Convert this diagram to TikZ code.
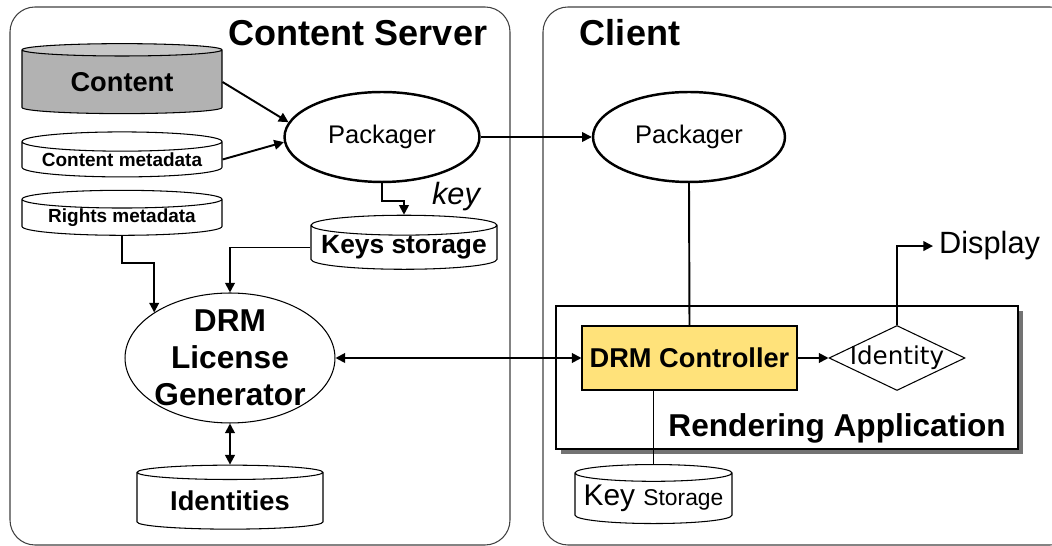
\documentclass[tikz,border=0pt]{standalone}
\usepackage{fontspec}
\setmainfont{Liberation Sans}
\newfontfamily\identfont{DejaVu Sans}
\usetikzlibrary{positioning,shapes.geometric,arrows.meta,shadows}
\definecolor{ctrlyellow}{HTML}{FFE27A}

\begin{document}
\begin{tikzpicture}[x=0.02cm,y=-0.02cm,>={Triangle[length=5.5pt,width=5.5pt]},
	panel/.style={draw=black!75,line width=0.6pt,rounded corners=0.5cm},
	db/.style={cylinder,shape border rotate=90,aspect=0.12,draw,line width=0.6pt,
		inner sep=0pt,font=\bfseries},
	pack/.style={ellipse,draw,line width=1.4pt,inner sep=0pt,minimum height=1.8cm,
		font=\fontsize{14.5}{17}\selectfont},
	conn/.style={line width=1.1pt}]
	\useasboundingbox (0,0) rectangle (1052,546);
	% the two sides
	\draw[panel] (10,7) rectangle (510,545);
	\draw[panel] (543,7) rectangle (1075,545);
	\node (srvtitle) at (358,33) {\fontsize{20.5}{24}\selectfont\bfseries Content Server};
	\node (clititle) at (630,33) {\fontsize{20.5}{24}\selectfont\bfseries Client};
	% create the nodes
	\node (content) [db,minimum width=4cm,minimum height=1.4cm,
		cylinder uses custom fill,cylinder end fill=black!22,cylinder body fill=black!30]
		at (122,82) {\fontsize{15.5}{18}\selectfont Content};
	\node (cmeta) [db,minimum width=4cm,minimum height=0.9cm] at (122,159.5)
		{\fontsize{10.8}{13}\selectfont Content metadata};
	\node (rmeta) [db,minimum width=4cm,minimum height=0.9cm] at (122,217.5)
		{\fontsize{10.8}{13}\selectfont Rights metadata};
	\node (pkgsrv) [pack,minimum width=3.9cm] at (382,137) {Packager};
	\node (keylbl) at (456,197) {\fontsize{17.5}{20}\selectfont\itshape key};
	\node (keys) [db,minimum width=3.72cm,minimum height=1.02cm] at (404,247.5)
		{\fontsize{15}{18}\selectfont Keys storage};
	\node (licgen) [ellipse,draw,line width=0.6pt,inner sep=0pt,minimum width=4.2cm,
		minimum height=2.6cm,label={[align=center,
		font=\fontsize{18}{21}\selectfont\bfseries]center:DRM\\License\\Generator}]
		at (230,358) {};
	\node (idents) [db,minimum width=3.72cm,minimum height=1.28cm] at (230,501)
		{\fontsize{15.5}{18}\selectfont Identities};
	\node (pkgcli) [pack,minimum width=3.84cm] at (689,137) {Packager};
	\node (render) [draw,line width=1.4pt,fill=white,minimum width=9.24cm,
		minimum height=2.86cm,drop shadow={shadow xshift=0.1cm,shadow yshift=-0.1cm,
		fill=black!55,opacity=1}] at (787,377.5) {};
	\node (rendtitle) [anchor=base east] at (1012,437)
		{\fontsize{18}{21}\selectfont\bfseries Rendering Application};
	\node (ctrl) [draw,line width=0.6pt,fill=ctrlyellow,minimum width=4.3cm,
		minimum height=1.28cm] at (689.5,358)
		{\fontsize{15.5}{18}\selectfont\bfseries DRM Controller};
	\node (ident) [diamond,draw,line width=0.6pt,inner sep=0pt,minimum width=2.72cm,
		minimum height=1.3cm,label={[font=\identfont\fontsize{14}{16}\selectfont]
		center:Identity}] at (897,358) {};
	\node (display) [anchor=base west] at (933,254)
		{\fontsize{17.5}{20}\selectfont Display};
	\node (keystore) [db,font=\mdseries,minimum width=3.14cm,minimum height=1.18cm]
		at (653.5,498.5) {\fontsize{17}{20}\selectfont Key
		\fontsize{13}{16}\selectfont Storage};
	% connect the nodes
	\draw[conn,->] (content.east) -- (pkgsrv.171);
	\draw[conn,->] (cmeta.east) -- (pkgsrv.183);
	\draw[conn,->] (pkgsrv.south) -- ++(0,18) -| (keys.north);
	\draw[conn,->] (keys.west) -| (licgen.north);
	\draw[conn,->] (rmeta.south) -- ++(0,27) -| (licgen.149);
	\draw[conn,<->] (licgen.south) -- (idents.north);
	\draw[conn,<->] (licgen.east) -- (ctrl.west);
	\draw[line width=0.8pt,->] (pkgsrv.east) -- (pkgcli.west);
	\draw[conn] (pkgcli.south) -- (ctrl.north);
	\draw[conn,->] (ctrl.east) -- (ident.west);
	\draw[conn,->] (ident.north) |- (display.west);
	\draw[conn] (keystore.north |- ctrl.south) -- (keystore.north);
\end{tikzpicture}
\end{document}
